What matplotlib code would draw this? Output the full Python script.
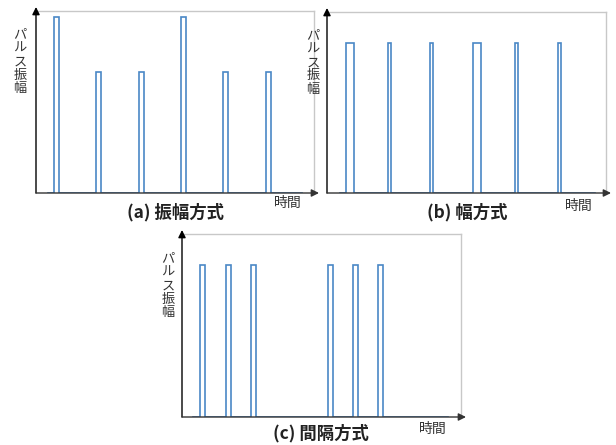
import numpy as np
import matplotlib
matplotlib.use("Agg")
import matplotlib.pyplot as plt

plt.rcParams["font.family"] = ["Noto Sans CJK JP", "DejaVu Sans"]

# ---- pulse trains (time in arbitrary units, 0..100 across each panel) ----
# (a) amplitude modulation
a_starts = [6.5, 21.6, 36.9, 52.2, 67.4, 82.7]
a_widths = [1.8, 1.8, 1.8, 1.8, 1.8, 1.8]
a_amps = [1.0, 0.69, 0.69, 1.0, 0.69, 0.69]
a_span = (4.3, 95.7)

# (b) width modulation
b_starts = [6.8, 21.9, 36.9, 52.3, 67.4, 82.8]
b_widths = [2.7, 1.2, 1.2, 2.8, 1.2, 1.2]
b_amps = [0.86, 0.86, 0.86, 0.86, 0.86, 0.86]
b_span = (4.7, 96.0)

# (c) interval modulation
c_starts = [6.5, 15.8, 24.7, 52.3, 61.3, 70.3]
c_widths = [1.8, 1.8, 1.8, 1.8, 1.8, 1.8]
c_amps = [0.86, 0.86, 0.86, 0.86, 0.86, 0.86]
c_span = (3.9, 95.3)

captions = ["(a) 振幅方式", "(b) 幅方式", "(c) 間隔方式"]
ylabel = "パルス振幅"
xlabel = "時間"

W, H = 616, 445
fig = plt.figure(figsize=(W / 100, H / 100), dpi=100)


def pulse_wave(starts, widths, amps, span):
    xs = [span[0]]
    ys = [0.0]
    for s, w, a in zip(starts, widths, amps):
        xs += [s, s, s + w, s + w]
        ys += [0.0, a, a, 0.0]
    xs.append(span[1])
    ys.append(0.0)
    return np.array(xs), np.array(ys)


def vertical_label(x, y_center, text, pitch=13.5):
    # stack characters one per row on a fixed baseline grid
    n = len(text)
    y0 = y_center - pitch * (n - 1) / 2 + 5
    for i, ch in enumerate(text):
        fig.text(x / W, 1 - (y0 + i * pitch) / H, ch, ha="center", va="baseline",
                 fontsize=9.5, color="#333333")


def panel(box, starts, widths, amps, span, caption, cap_xy, xl_xy, yl_xy):
    l, t, r, b = box
    ax = fig.add_axes([l / W, 1 - b / H, (r - l) / W, (b - t) / H])
    x, y = pulse_wave(starts, widths, amps, span)
    ax.plot(x, y, color="#4a88c6", lw=1.2, solid_joinstyle="miter", zorder=3)
    ax.set_xlim(0, 100)
    ax.set_ylim(0, 1.035)
    ax.set_xticks([])
    ax.set_yticks([])
    for s in ("top", "right"):
        ax.spines[s].set_color("#c8c8c8")
        ax.spines[s].set_linewidth(1.0)
    ax.spines["left"].set_visible(False)
    ax.spines["bottom"].set_visible(False)

    # axes with arrow heads
    w_px, h_px = r - l, b - t
    ax.annotate("", xy=(0, 1 + 4 / h_px), xytext=(0, 0), xycoords="axes fraction",
                arrowprops=dict(arrowstyle="-|>", color="black", lw=1.0,
                                mutation_scale=11, shrinkA=0, shrinkB=0))
    ax.annotate("", xy=(1 + 5 / w_px, 0), xytext=(0, 0), xycoords="axes fraction",
                arrowprops=dict(arrowstyle="-|>", color="#333333", lw=1.0,
                                mutation_scale=11, shrinkA=0, shrinkB=0))

    fig.text(cap_xy[0] / W, 1 - cap_xy[1] / H, caption, ha="center", va="center",
             fontsize=12.5, fontweight="bold", color="#222222")
    fig.text(xl_xy[0] / W, 1 - xl_xy[1] / H, xlabel, ha="center", va="center",
             fontsize=10, color="#333333")
    vertical_label(yl_xy[0], yl_xy[1], ylabel)
    return ax


panel((36, 11, 314, 193), a_starts, a_widths, a_amps, a_span, captions[0],
      (175, 212), (288, 203), (20, 60))
panel((327, 12, 606, 193), b_starts, b_widths, b_amps, b_span, captions[1],
      (467, 212), (579, 206), (313, 61))
panel((182, 234, 461, 417), c_starts, c_widths, c_amps, c_span, captions[2],
      (321, 433), (433, 429), (168, 284))

fig.savefig("out.png", dpi=100)
